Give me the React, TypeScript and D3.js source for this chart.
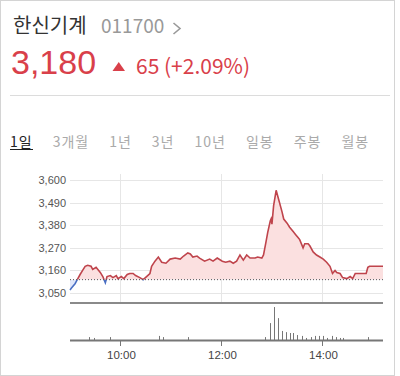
import React from "react";
import * as d3 from "d3";

const stockName = "한신기계";
const stockCode = "011700";
const lastPrice = "3,180";
const changeText = "65 (+2.09%)";
const prevClose = 3115;

const tabs = ["1일", "3개월", "1년", "3년", "10년", "일봉", "주봉", "월봉"];

const times = [
  "09:00", "09:02", "09:06", "09:08", "09:12", "09:15", "09:18", "09:21", "09:25", "09:27",
  "09:31", "09:36", "09:39", "09:42", "09:44", "09:48", "09:51", "09:55", "09:57", "10:01",
  "10:04", "10:08", "10:11", "10:15", "10:18", "10:23", "10:27", "10:31", "10:35", "10:37",
  "10:41", "10:45", "10:49", "10:54", "10:59", "11:05", "11:11", "11:15", "11:20", "11:23",
  "11:26", "11:31", "11:34", "11:40", "11:46", "11:50", "11:55", "12:01", "12:05", "12:10",
  "12:14", "12:18", "12:22", "12:26", "12:30", "12:34", "12:40", "12:43", "12:48", "12:50",
  "12:53", "12:55", "12:58", "12:59", "13:00", "13:02", "13:05", "13:08", "13:12", "13:14",
  "13:18", "13:21", "13:25", "13:28", "13:31", "13:33", "13:37", "13:39", "13:43", "13:45",
  "13:49", "13:53", "13:57", "14:01", "14:05", "14:09", "14:12", "14:15", "14:17", "14:21",
  "14:24", "14:29", "14:33", "14:36", "14:39", "14:42", "14:52", "14:54", "14:56", "15:12",
];
const prices = [
  3065, 3075, 3095, 3110, 3140, 3160, 3180, 3185, 3180, 3165,
  3175, 3150, 3130, 3100, 3130, 3135, 3125, 3135, 3120, 3130,
  3120, 3140, 3145, 3145, 3135, 3125, 3115, 3130, 3145, 3180,
  3205, 3225, 3200, 3195, 3215, 3220, 3215, 3230, 3245, 3240,
  3225, 3230, 3220, 3205, 3215, 3205, 3220, 3205, 3200, 3205,
  3195, 3205, 3235, 3210, 3235, 3220, 3220, 3225, 3220, 3235,
  3300, 3345, 3400, 3410, 3385, 3475, 3550, 3505, 3445, 3410,
  3390, 3370, 3350, 3335, 3320, 3310, 3270, 3290, 3290, 3280,
  3250, 3235, 3225, 3215, 3200, 3180, 3145, 3160, 3150, 3145,
  3125, 3120, 3130, 3120, 3145, 3145, 3145, 3175, 3180, 3180,
];

const volTimes = [
  "09:23", "09:29", "09:48", "10:46", "10:50", "11:20", "12:52", "12:58", "13:02", "13:07",
  "13:12", "13:17", "13:21", "13:25", "13:30", "13:36", "13:40", "13:46", "13:51", "13:56",
  "14:01", "14:06", "14:11", "14:16", "14:21", "14:25", "14:54",
];
const volumes = [
  10000, 7000, 10000, 14000, 10000, 10000, 10000, 58000, 113000, 75000,
  31000, 27000, 24000, 24000, 17000, 14000, 7000, 10000, 14000, 14000,
  14000, 7000, 14000, 10000, 7000, 7000, 10000,
];

const priceTicks = [3050, 3160, 3270, 3380, 3490, 3600];
const timeTicks = ["10:00", "12:00", "14:00"];

const toDate = (s: string) => {
  const [h, m] = s.split(":").map(Number);
  return new Date(2020, 0, 2, h, m);
};

const RED = "#d9404a";
const LINE_RED = "#bf444c";
const BLUE = "#4a6fc4";
const KR = "'Noto Sans CJK KR', 'Noto Sans', sans-serif";
const NUM = "'Liberation Sans', Arial, sans-serif";

export default function App() {
  const x = d3
    .scaleTime()
    .domain([toDate("09:00"), toDate("15:12")])
    .range([70, 383]);
  const y = d3.scaleLinear().domain([3050, 3600]).range([293, 180]);
  const yv = d3.scaleLinear().domain([0, 120000]).range([340, 305]);

  const pts = times.map((t, i) => ({ d: toDate(t), p: prices[i] }));
  const line = d3
    .line<{ d: Date; p: number }>()
    .x((v) => x(v.d))
    .y((v) => y(v.p));
  const area = d3
    .area<{ d: Date; p: number }>()
    .x((v) => x(v.d))
    .y0(y(prevClose))
    .y1((v) => y(v.p));
  const base = y(prevClose);
  const [x0, x1] = x.range();

  return (
    <div style={{ position: "absolute", left: 0, top: 0 }}>
      <svg width={400} height={376} style={{ display: "block", background: "#fff" }}>
        <defs>
          <clipPath id="above">
            <rect x={0} y={0} width={400} height={base} />
          </clipPath>
          <clipPath id="below">
            <rect x={0} y={base} width={400} height={376 - base} />
          </clipPath>
        </defs>
        {/* frame */}
        <rect x={0.5} y={0.5} width={394} height={375} fill="none" stroke="#d4d4d4" />

        {/* header */}
        <text x={13} y={33} fontFamily={KR} fontSize={20} fill="#333">
          {stockName}
        </text>
        <text x={101} y={33} fontFamily={KR} fontSize={19} fill="#999">
          {stockCode}
        </text>
        <path d="M173.5,23 L180,28.5 L173.5,34" fill="none" stroke="#999" strokeWidth={1.6} />
        <text x={11} y={74} fontFamily={NUM} fontSize={34} fill={RED}>
          {lastPrice}
        </text>
        <path d="M112.5,71 L125,71 L118.75,62 Z" fill={RED} />
        <text x={136} y={74} fontFamily={KR} fontSize={21} fill={RED}>
          {changeText}
        </text>
        <line x1={10} x2={390} y1={95.5} y2={95.5} stroke="#dcdcdc" />

        {/* tabs */}
        <text x={10} y={147} fontFamily={KR} fontSize={14} letterSpacing={1} fill="#aaa">
          {tabs.map((t, i) => (
            <tspan key={t} dx={i === 0 ? 0 : 20} fill={i === 0 ? "#222" : "#aaa"}>
              {t}
            </tspan>
          ))}
        </text>
        <line x1={10} x2={33} y1={149.5} y2={149.5} stroke="#222" />

        {/* grid */}
        {priceTicks.map((p) => (
          <g key={p}>
            <line x1={x0} x2={x1} y1={Math.round(y(p)) + 0.5} y2={Math.round(y(p)) + 0.5} stroke="#e6e6e6" />
            <text x={66} y={y(p) + 4} textAnchor="end" fontFamily={NUM} fontSize={11} fill="#555">
              {d3.format(",")(p)}
            </text>
          </g>
        ))}
        {timeTicks.map((t) => (
          <line
            key={t}
            x1={Math.round(x(toDate(t))) + 0.5}
            x2={Math.round(x(toDate(t))) + 0.5}
            y1={174}
            y2={303}
            stroke="#e6e6e6"
          />
        ))}

        {/* price area and line */}
        <path d={area(pts) || ""} fill="#fbe0e0" clipPath="url(#above)" />
        <path d={area(pts) || ""} fill="#e1e8fb" clipPath="url(#below)" />
        <path d={line(pts) || ""} fill="none" stroke={LINE_RED} strokeWidth={1.6} clipPath="url(#above)" />
        <path d={line(pts) || ""} fill="none" stroke={BLUE} strokeWidth={1.6} clipPath="url(#below)" />
        <line x1={x0} x2={x1} y1={base} y2={base} stroke="#555" strokeDasharray="1,2" />

        {/* price panel bottom */}
        <line x1={x0} x2={x1} y1={303} y2={303} stroke="#8a8a8a" strokeWidth={2} />

        {/* volume */}
        {volTimes.map((t, i) => (
          <line
            key={t}
            x1={Math.round(x(toDate(t))) + 0.5}
            x2={Math.round(x(toDate(t))) + 0.5}
            y1={yv(0)}
            y2={yv(volumes[i])}
            stroke="#777"
          />
        ))}
        <line x1={x0} x2={x1} y1={340.5} y2={340.5} stroke="#777" strokeWidth={2} />
        {timeTicks.map((t) => (
          <g key={t}>
            <line
              x1={Math.round(x(toDate(t))) + 0.5}
              x2={Math.round(x(toDate(t))) + 0.5}
              y1={341}
              y2={346}
              stroke="#777"
            />
            <text x={x(toDate(t)) + 1} y={359} textAnchor="middle" fontFamily={NUM} fontSize={11.5} fill="#444">
              {t}
            </text>
          </g>
        ))}
      </svg>
    </div>
  );
}
